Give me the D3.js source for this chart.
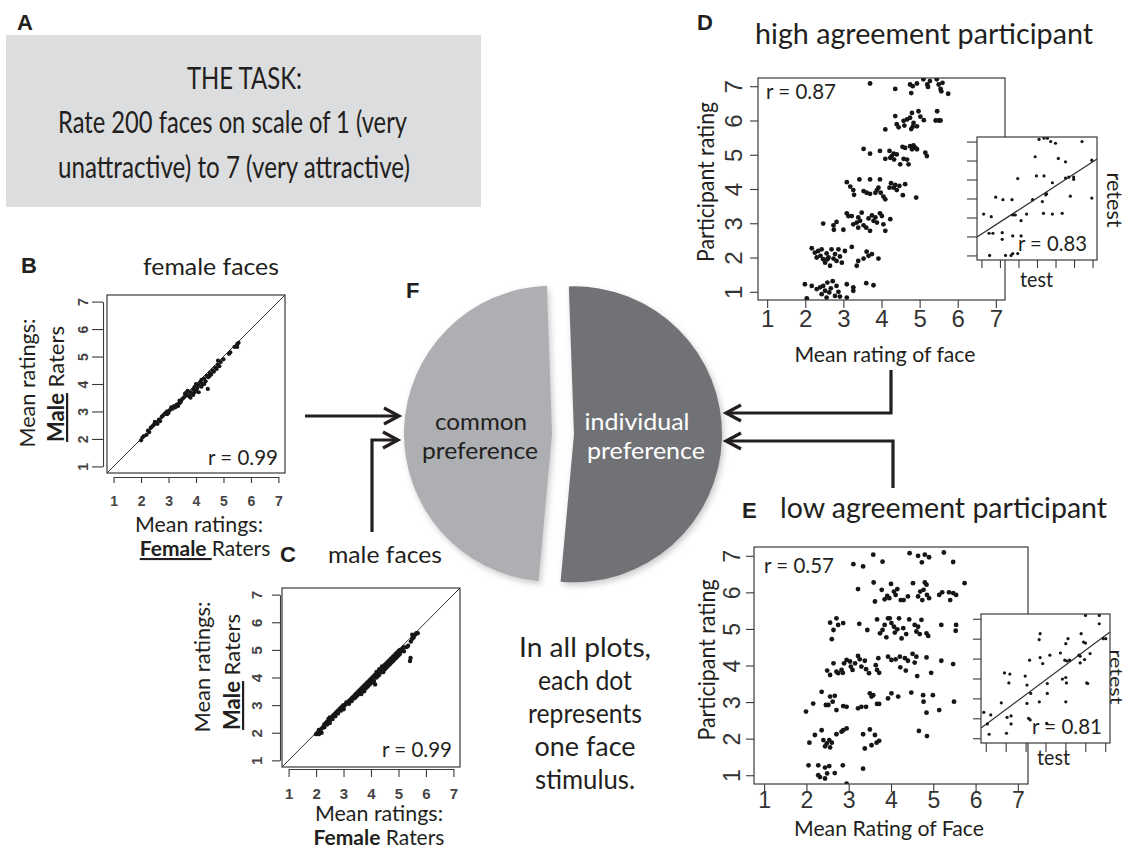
<!DOCTYPE html>
<html><head><meta charset="utf-8">
<script src="https://cdn.jsdelivr.net/npm/d3@7"></script>
<style>
body{margin:0;background:#fff;}
svg{display:block;}
</style></head><body>
<svg id="fig" width="1129" height="851"></svg>
<script>
// ---------------- DATA ----------------
const ratingTicks = [1, 2, 3, 4, 5, 6, 7];
const taskLines = ["THE TASK:", "Rate 200 faces on scale of 1 (very", "unattractive) to 7 (very attractive)"];
const pieCategories = ["individual preference", "common preference"];
const pieShares = [52, 48];
const noteLines = ["In all plots,", "each dot", "represents", "one face", "stimulus."];
const correlations = ["0.99", "0.99", "0.87", "0.83", "0.57", "0.81"]; // B, C, D, D-inset, E, E-inset

// B: female faces  [mean rating by female raters, mean rating by male raters]
const femaleFacesPts = [[2.0,1.95],[2.05,2.05],[2.1,2.1],[2.2,2.15],[2.25,2.3],[2.3,2.25],[2.35,2.4],[2.4,2.45],[2.45,2.5],[2.5,2.55],[2.55,2.6],[2.5,2.62],[2.6,2.55],[2.65,2.7],[2.7,2.65],[2.75,2.8],[2.8,2.85],[2.85,2.9],[2.9,2.95],[2.95,3.0],[3.0,2.95],[3.05,3.05],[3.1,3.15],[3.2,3.2],[3.25,3.15],[3.3,3.25],[3.35,3.2],[3.4,3.3],[3.45,3.35],[3.5,3.45],[3.55,3.5],[3.6,3.55],[3.65,3.7],[3.7,3.6],[3.7,3.75],[3.75,3.55],[3.8,3.7],[3.8,3.5],[3.85,3.65],[3.9,3.8],[3.9,3.6],[3.95,3.9],[4.0,3.75],[4.0,4.0],[4.05,3.85],[4.1,3.95],[4.1,3.7],[4.15,4.05],[4.2,3.9],[4.2,4.15],[4.25,4.0],[4.3,4.2],[4.35,4.1],[4.43,3.82],[4.4,4.3],[4.45,4.25],[4.5,4.4],[4.55,4.35],[4.6,4.5],[4.65,4.45],[4.7,4.6],[4.75,4.55],[4.8,4.7],[4.85,4.65],[4.8,4.85],[4.9,4.8],[5.0,4.9],[5.2,5.1],[5.25,5.15],[5.4,5.35],[5.5,5.45],[5.55,5.5],[5.5,5.35],[3.6,3.65],[3.4,3.4],[3.15,3.1],[2.95,2.9],[4.3,4.0],[4.5,4.3],[3.95,3.7]];

// C: male faces
const maleFacesPts = [[2.0,1.95],[2.05,2.0],[2.1,2.1],[2.1,1.95],[2.15,2.05],[2.2,2.15],[2.25,2.2],[2.3,2.3],[2.3,2.2],[2.35,2.35],[2.4,2.4],[2.4,2.3],[2.45,2.5],[2.5,2.45],[2.5,2.55],[2.55,2.5],[2.6,2.6],[2.6,2.5],[2.65,2.65],[2.7,2.6],[2.7,2.7],[2.75,2.75],[2.8,2.7],[2.8,2.8],[2.85,2.85],[2.9,2.8],[2.9,2.9],[2.95,2.95],[3.0,2.9],[3.0,3.0],[3.05,3.0],[3.1,3.05],[3.1,3.1],[3.15,3.1],[3.2,3.15],[3.2,3.05],[3.25,3.2],[3.3,3.25],[3.3,3.15],[3.35,3.3],[3.4,3.35],[3.4,3.25],[3.45,3.4],[3.5,3.45],[3.5,3.35],[3.55,3.5],[3.6,3.55],[3.6,3.45],[3.65,3.6],[3.7,3.65],[3.7,3.55],[3.75,3.7],[3.8,3.75],[3.8,3.6],[3.85,3.8],[3.9,3.85],[3.9,3.7],[3.95,3.9],[4.0,3.95],[4.0,3.8],[4.05,4.0],[4.1,4.05],[4.1,3.9],[4.15,4.1],[4.2,4.2],[4.2,4.0],[4.25,4.15],[4.3,4.3],[4.3,4.1],[4.35,4.25],[4.4,4.4],[4.4,4.2],[4.45,4.35],[4.5,4.45],[4.5,4.3],[4.55,4.5],[4.6,4.55],[4.6,4.4],[4.65,4.6],[4.7,4.65],[4.7,4.5],[4.75,4.7],[4.8,4.75],[4.8,4.6],[4.85,4.8],[4.9,4.85],[4.9,4.7],[4.95,4.9],[5.0,4.95],[5.0,4.8],[5.05,5.0],[5.1,4.95],[5.15,5.05],[5.2,5.1],[5.2,4.95],[5.3,5.1],[5.35,5.15],[5.45,5.3],[5.5,5.4],[5.55,5.45],[5.6,5.55],[5.65,5.6],[5.7,5.6],[5.55,5.5],[5.5,5.55],[5.44,4.71],[5.42,4.6],[4.1,3.85],[4.15,3.75],[3.65,3.4],[2.2,2.0],[2.5,2.35],[3.0,2.85],[3.45,3.3],[3.55,3.4],[3.75,3.5],[3.85,3.65],[3.95,3.75],[4.05,3.85],[4.25,4.05],[4.45,4.2],[4.55,4.35],[4.65,4.45],[4.75,4.55],[4.85,4.65],[4.95,4.75],[5.05,4.85]];

// D: high agreement participant [mean rating of face, participant rating (jittered)]
const highAgreePts = [[3.70,7.08],[4.36,6.92],[4.75,7.05],[4.82,7.0],[4.78,6.8],[4.93,7.08],[5.1,7.2],[5.2,7.05],[5.22,6.98],[5.27,7.15],[5.45,7.2],[5.5,7.05],[5.55,6.92],[5.57,6.85],[5.6,7.1],[5.75,6.78],
[4.10,5.74],[4.36,6.13],[4.40,5.89],[4.45,5.80],[4.58,5.99],[4.67,6.03],[4.75,6.08],[4.80,6.22],[4.84,5.93],[4.93,5.83],[4.97,6.27],[5.02,6.11],[5.11,6.01],[5.46,6.27],[5.50,6.0],[5.42,6.0],[5.55,6.0],[4.6,5.85],[4.78,5.75],[4.82,5.82],
[3.53,5.17],[3.70,5.03],[3.96,5.11],[4.10,4.88],[4.21,5.11],[4.27,4.96],[4.33,4.86],[4.40,5.01],[4.49,4.72],[4.58,4.88],[4.62,5.20],[4.67,4.86],[4.71,4.72],[4.75,5.25],[4.80,5.16],[4.84,5.27],[4.89,5.20],[4.93,5.16],[5.15,5.06],[5.19,4.96],[4.23,4.91],[4.32,5.03],[4.55,5.23],
[3.09,4.20],[3.18,4.07],[3.26,3.97],[3.28,3.83],[3.42,4.28],[3.53,3.94],[3.61,3.89],[3.70,4.28],[3.70,3.86],[3.88,3.97],[3.92,4.04],[3.96,4.28],[3.98,3.89],[4.05,3.78],[4.10,3.70],[4.21,4.04],[4.25,4.17],[4.32,4.04],[4.40,3.97],[4.47,4.09],[4.56,3.82],[4.62,4.14],[4.91,3.75],[3.84,3.89],[4.36,4.12],
[2.47,2.99],[2.74,2.94],[2.75,2.81],[2.82,3.04],[3.0,2.81],[3.09,3.29],[3.13,3.21],[3.22,3.21],[3.26,2.97],[3.35,3.02],[3.39,2.87],[3.44,3.07],[3.48,3.31],[3.53,2.94],[3.60,2.87],[3.66,3.14],[3.70,2.78],[3.75,3.23],[3.79,3.07],[3.88,3.02],[3.96,3.29],[4.01,3.21],[4.05,2.97],[4.10,2.78],[4.23,3.12],[3.39,3.17],[3.84,3.17],
[2.17,2.27],[2.25,2.14],[2.30,2.0],[2.34,2.19],[2.40,2.05],[2.47,1.95],[2.52,1.85],[2.56,2.12],[2.61,2.0],[2.65,1.76],[2.69,2.24],[2.74,1.97],[2.78,2.10],[2.82,1.90],[2.87,2.24],[2.91,2.03],[2.96,1.85],[3.04,2.19],[3.22,2.31],[3.35,1.76],[3.39,1.90],[3.53,1.97],[3.61,2.17],[3.66,2.05],[3.75,2.10],[3.92,1.97],[2.43,2.24],[2.58,1.95],
[1.99,1.22],[2.17,1.17],[2.30,1.08],[2.39,1.13],[2.04,0.81],[2.43,0.93],[2.47,1.17],[2.52,1.03],[2.58,1.27],[2.63,0.98],[2.67,1.10],[2.72,1.31],[2.78,0.88],[2.82,1.17],[2.87,1.0],[3.09,1.22],[3.09,0.83],[3.26,1.13],[3.26,1.03],[3.60,1.25],[3.79,1.19],[2.56,0.83],[2.91,0.86]];

// D inset: test vs retest
const highAgreeRetest = [[4.11,7.12],[4.38,7.18],[4.56,7.18],[4.74,7.0],[5.0,6.91],[6.43,7.0],[3.90,6.20],[5.15,6.11],[5.54,5.93],[2.96,5.05],[3.97,5.19],[4.38,5.19],[4.83,4.83],[5.54,5.08],[5.72,5.13],[5.98,5.13],[5.98,5.01],[1.77,4.07],[2.16,3.94],[2.65,3.94],[3.76,3.94],[4.29,3.84],[4.47,4.19],[4.52,4.25],[5.80,4.12],[6.96,4.02],[1.12,3.18],[1.53,3.04],[2.69,3.13],[2.83,3.13],[3.14,2.83],[3.44,3.18],[4.35,3.22],[4.83,3.18],[5.36,3.22],[1.41,2.17],[1.62,2.17],[2.12,2.20],[2.12,1.85],[2.69,2.03],[3.14,2.03],[1.44,1.0],[2.30,1.0],[2.60,1.0],[2.69,1.10],[2.96,1.10],[6.96,6.02]];
const highAgreeFit = [[0.76,1.97],[7.24,6.08]];

// E: low agreement participant
const lowAgreePts = [[3.11,6.77],[3.34,6.71],[3.58,7.03],[3.80,6.84],[4.44,7.07],[4.64,7.0],[4.73,6.82],[4.80,7.03],[4.90,6.96],[5.25,7.09],[5.47,6.83],
[3.22,6.09],[3.59,6.27],[3.62,5.75],[3.78,6.07],[3.85,5.81],[3.91,5.90],[3.96,5.84],[4.0,6.23],[4.07,6.02],[4.11,5.93],[4.15,6.09],[4.23,5.79],[4.30,5.79],[4.40,5.89],[4.52,6.25],[4.64,5.89],[4.69,6.02],[4.74,5.79],[4.77,6.07],[4.80,6.27],[4.84,6.21],[4.85,5.93],[4.90,5.84],[5.14,5.93],[5.21,6.0],[5.37,6.0],[5.40,5.79],[5.47,5.98],[5.54,5.93],[5.74,6.25],
[2.56,5.17],[2.60,4.72],[2.64,4.97],[2.71,5.29],[2.75,5.11],[2.87,5.16],[3.25,5.14],[3.44,4.97],[3.67,5.26],[3.74,4.88],[3.80,4.97],[3.85,5.11],[3.89,4.77],[3.93,5.29],[3.97,5.29],[4.01,5.16],[4.07,5.06],[4.09,4.90],[4.15,4.99],[4.19,5.29],[4.25,4.74],[4.29,5.02],[4.36,4.86],[4.43,5.26],[4.56,5.11],[4.60,4.93],[4.64,5.06],[4.68,4.86],[4.72,5.25],[4.84,4.88],[4.88,4.81],[5.19,5.11],[5.54,5.11],[5.53,4.95],
[2.49,3.86],[2.56,3.74],[2.64,4.06],[2.71,3.83],[2.75,3.79],[2.83,3.88],[2.86,3.80],[2.89,4.06],[2.95,4.15],[3.03,4.11],[3.05,3.97],[3.09,3.88],[3.15,4.06],[3.22,4.26],[3.26,4.17],[3.30,3.97],[3.38,4.13],[3.41,3.90],[3.48,3.79],[3.64,4.01],[3.67,3.88],[3.72,3.80],[3.70,4.20],[3.93,4.24],[4.01,4.15],[4.11,4.17],[4.21,4.24],[4.22,3.95],[4.33,4.20],[4.35,3.86],[4.40,4.13],[4.51,4.32],[4.56,4.08],[4.60,4.24],[4.62,3.71],[4.84,4.22],[4.95,3.80],[5.19,4.13],[5.47,4.04],
[1.99,2.74],[2.16,2.96],[2.36,3.28],[2.46,2.92],[2.52,2.92],[2.56,3.15],[2.62,3.01],[2.67,3.17],[2.71,2.78],[2.87,2.89],[2.95,2.87],[3.22,2.83],[3.30,2.87],[3.41,2.87],[3.50,3.24],[3.54,3.15],[3.58,3.19],[3.67,2.95],[3.72,2.95],[3.93,3.10],[4.01,3.24],[4.17,3.15],[4.48,3.26],[4.76,3.19],[4.77,3.01],[4.84,2.71],[4.99,3.19],[5.14,2.78],[5.49,3.01],
[2.07,1.89],[2.20,2.10],[2.36,2.23],[2.40,1.96],[2.44,1.79],[2.48,1.87],[2.54,1.96],[2.56,1.76],[2.60,1.89],[2.71,2.12],[2.83,2.19],[2.87,2.23],[2.95,2.28],[3.34,2.12],[3.38,1.73],[3.50,2.25],[3.54,1.82],[3.62,2.10],[3.66,1.89],[3.72,1.94],[4.66,2.21],[4.85,2.07],
[2.05,1.27],[2.28,1.27],[2.28,1.0],[2.32,0.95],[2.44,0.91],[2.49,1.05],[2.54,1.25],[2.67,1.06],[2.86,1.27],[2.95,0.77],[3.34,1.18],[2.44,1.21]];

// E inset: test vs retest
const lowAgreeRetest = [[6.01,7.17],[6.70,7.17],[6.70,6.75],[7.03,6.0],[6.90,6.0],[3.73,6.25],[3.68,5.95],[5.13,6.0],[5.02,5.75],[5.79,6.25],[5.91,5.83],[6.01,5.78],[6.24,5.25],[4.75,5.28],[4.22,5.17],[3.73,5.05],[3.20,4.92],[3.86,4.75],[4.97,4.92],[5.08,4.88],[5.21,4.92],[5.68,5.17],[5.74,5.12],[5.74,4.78],[5.96,4.95],[1.94,4.28],[2.21,4.22],[2.16,3.78],[2.98,4.12],[3.07,3.67],[3.26,3.25],[4.09,3.75],[4.09,3.25],[4.85,3.97],[5.02,4.05],[5.05,3.78],[6.07,3.78],[6.12,3.75],[3.69,2.83],[5.02,2.83],[3.07,2.75],[1.78,2.78],[1.25,2.17],[2.07,2.05],[2.27,2.12],[2.27,1.72],[3.15,2.0],[3.23,1.92],[1.08,1.72],[1.17,1.2],[2.04,1.25],[4.06,1.75],[0.9,2.3]];
const lowAgreeFit = [[0.76,1.51],[7.24,6.34]];

// ---------------- DRAWING ----------------
const CAL = "Lato, 'Open Sans', sans-serif";
const ARI = "'Liberation Sans', Arial, sans-serif";
const INK = "#231f20";
const svg = d3.select("#fig");
const defs = svg.append("defs");

function T(x, y, s, o = {}) {
  const t = svg.append("text").attr("x", x).attr("y", y).text(s)
    .attr("font-family", o.ff || CAL).attr("font-size", o.fs || 20)
    .attr("fill", o.fill || INK).attr("text-anchor", o.anchor || "start");
  if (o.fw) t.attr("font-weight", o.fw);
  if (o.len) t.attr("textLength", o.len).attr("lengthAdjust", "spacingAndGlyphs");
  if (o.rot) t.attr("transform", `rotate(${o.rot},${x},${y})`);
  return t;
}
function Mixed(x, y, parts, o = {}) {
  const t = svg.append("text").attr("x", x).attr("y", y)
    .attr("font-family", CAL).attr("font-size", o.fs || 20).attr("fill", INK)
    .attr("text-anchor", o.anchor || "middle");
  if (o.rot) t.attr("transform", `rotate(${o.rot},${x},${y})`);
  parts.forEach(p => {
    const s = t.append("tspan").text(p.t);
    if (p.b) s.attr("font-weight", "bold");
    if (p.u) s.attr("text-decoration", "underline");
  });
  return t;
}

let clipN = 0;
function scatter(o) {
  const [x0, y0, x1, y1] = o.box;
  const x = d3.scaleLinear().domain([0.76, 7.24]).range([x0, x1]);
  const y = d3.scaleLinear().domain([0.76, 7.24]).range([y1, y0]);
  const g = svg.append("g");
  const id = "clip" + (clipN++);
  defs.append("clipPath").attr("id", id).append("rect")
    .attr("x", x0).attr("y", y0).attr("width", x1 - x0).attr("height", y1 - y0);
  if (o.white) g.append("rect").attr("x", x0).attr("y", y0).attr("width", x1 - x0).attr("height", y1 - y0).attr("fill", "#fff");
  const pg = g.append("g").attr("clip-path", `url(#${id})`);
  if (o.diag) pg.append("line").attr("x1", x(0.76)).attr("y1", y(0.76)).attr("x2", x(7.24)).attr("y2", y(7.24))
    .attr("stroke", "#333").attr("stroke-width", 1);
  if (o.fit) pg.append("line").attr("x1", x(o.fit[0][0])).attr("y1", y(o.fit[0][1]))
    .attr("x2", x(o.fit[1][0])).attr("y2", y(o.fit[1][1])).attr("stroke", "#333").attr("stroke-width", 1.3);
  pg.selectAll("circle").data(o.pts).join("circle")
    .attr("cx", d => x(d[0])).attr("cy", d => y(d[1])).attr("r", o.r).attr("fill", "#161616");
  g.append("rect").attr("x", x0).attr("y", y0).attr("width", x1 - x0).attr("height", y1 - y0)
    .attr("fill", "none").attr("stroke", "#3a3a3a").attr("stroke-width", 1.2);

  const xa = d3.scaleLinear().domain([1, 7]).range([x(1), x(7)]);
  const ya = d3.scaleLinear().domain([1, 7]).range([y(1), y(7)]);
  const ax = d3.axisBottom(xa).tickValues(ratingTicks).tickSize(o.xt[0]).tickSizeOuter(0).tickPadding(o.xt[1])
    .tickFormat(o.fs ? d3.format("d") : "");
  const gx = g.append("g").attr("transform", `translate(0,${y1 + o.off})`).call(ax);
  const ay = d3.axisLeft(ya).tickValues(ratingTicks).tickSize(o.yt[0]).tickSizeOuter(0).tickPadding(o.yt[1])
    .tickFormat(o.fs ? d3.format("d") : "");
  const gy = g.append("g").attr("transform", `translate(${x0 - o.off},0)`).call(ay);
  [gx, gy].forEach(a => {
    a.attr("font-family", ARI).attr("font-size", o.fs || 10);
    a.selectAll("line,path").attr("stroke", "#3a3a3a").attr("stroke-width", 1.1);
    if (!o.axisLine) a.select("path.domain").remove();
    a.selectAll("text").attr("fill", o.tc || "#333").attr("font-weight", o.fw || "normal");
  });
  gy.selectAll("text").attr("x", 0).attr("dy", 0).attr("text-anchor", "middle")
    .attr("transform", `translate(${-(o.yt[0] + o.yt[1])},0) rotate(-90)`);
  return { x, y };
}

// ---- Panel A ----
T(17, 30, "A", { ff: ARI, fs: 22, fw: "bold" });
svg.append("rect").attr("x", 6).attr("y", 35).attr("width", 475).attr("height", 172).attr("fill", "#dcdddf");
T(187, 89, taskLines[0], { fs: 31, len: 115 });
T(58, 133, taskLines[1], { fs: 31, len: 349 });
T(58, 178, taskLines[2], { fs: 31, len: 352 });

// ---- Panel B ----
T(21, 273, "B", { ff: ARI, fs: 22, fw: "bold" });
T(143, 275, "female faces", { fs: 24, len: 136 });
scatter({ box: [107, 295, 285, 473], pts: femaleFacesPts, r: 2.1, diag: true, off: 4,
  xt: [6, 13], yt: [11, 4], fs: 14, fw: "bold", tc: "#444", axisLine: true });
T(278, 465, "r = " + correlations[0], { fs: 22, anchor: "end", len: 70 });
T(199, 532, "Mean ratings:", { fs: 21, anchor: "middle", len: 128 });
Mixed(205, 556, [{ t: "Female ", b: true, u: true }, { t: "Raters" }], { fs: 21 });
T(35, 383, "Mean ratings:", { fs: 22, anchor: "middle", rot: -90, len: 129 });
Mixed(64, 384, [{ t: "Male", b: true, u: true }, { t: " Raters" }], { fs: 22, rot: -90 });

// ---- Panel C ----
T(280, 562, "C", { ff: ARI, fs: 22, fw: "bold" });
T(328, 563, "male faces", { fs: 24, len: 114 });
scatter({ box: [282, 588, 460, 767], pts: maleFacesPts, r: 2.2, diag: true, off: 2,
  xt: [8, 11], yt: [8, 10], fs: 15, fw: "bold", tc: "#444", axisLine: true });
T(452, 757, "r = " + correlations[1], { fs: 22, anchor: "end", len: 70 });
T(379, 821, "Mean ratings:", { fs: 21, anchor: "middle", len: 128 });
Mixed(379, 845, [{ t: "Female", b: true }, { t: " Raters" }], { fs: 21 });
T(210, 667, "Mean ratings:", { fs: 22, anchor: "middle", rot: -90, len: 131 });
Mixed(240, 672, [{ t: "Male", b: true, u: true }, { t: " Raters" }], { fs: 22, rot: -90 });

// ---- Panel D ----
T(697, 30, "D", { ff: ARI, fs: 22, fw: "bold" });
T(755, 44, "high agreement participant", { fs: 28, len: 338 });
scatter({ box: [758, 78, 1005, 300], pts: highAgreePts, r: 2.4, off: 0,
  xt: [8, 2], yt: [8, 8], fs: 24, tc: "#333" });
T(766, 99, "r = " + correlations[2], { fs: 22, len: 70 });
scatter({ box: [977, 137, 1097, 260], pts: highAgreeRetest, r: 1.6, off: 0, white: true,
  fit: highAgreeFit, xt: [8, 0], yt: [10, 0] });
T(1087, 251, "r = " + correlations[3], { fs: 22, anchor: "end", len: 69 });
T(1020, 287, "test", { fs: 22, len: 33 });
T(1107, 200, "retest", { fs: 22, anchor: "middle", rot: 90, len: 55 });
T(885, 362, "Mean rating of face", { fs: 22, anchor: "middle", len: 181 });
T(714, 182, "Participant rating", { fs: 23, anchor: "middle", rot: -90, len: 160 });

// ---- Panel E ----
T(742, 518, "E", { ff: ARI, fs: 22, fw: "bold" });
T(780, 518, "low agreement participant", { fs: 28, len: 327 });
scatter({ box: [754, 547, 1028, 784], pts: lowAgreePts, r: 2.4, off: 0,
  xt: [8, 0], yt: [8, 6], fs: 23, tc: "#333" });
T(764, 573, "r = " + correlations[4], { fs: 22, len: 70 });
scatter({ box: [981, 614, 1110, 743], pts: lowAgreeRetest, r: 1.6, off: 0, white: true,
  fit: lowAgreeFit, xt: [9, 0], yt: [8, 0] });
T(1102, 734, "r = " + correlations[5], { fs: 22, anchor: "end", len: 70 });
T(1037, 765, "test", { fs: 22, len: 33 });
T(1110, 677, "retest", { fs: 18, anchor: "middle", rot: 90, len: 55 });
T(889, 836, "Mean Rating of Face", { fs: 21, anchor: "middle", len: 190 });
T(715, 660, "Participant rating", { fs: 23, anchor: "middle", rot: -90, len: 161 });

// ---- Panel F : pie ----
const flt = defs.append("filter").attr("id", "shadow").attr("x", "-20%").attr("y", "-20%").attr("width", "140%").attr("height", "140%");
flt.append("feDropShadow").attr("dx", 2).attr("dy", 3).attr("stdDeviation", 3).attr("flood-color", "#888").attr("flood-opacity", 0.45);
T(406, 298, "F", { ff: ARI, fs: 22, fw: "bold" });
const pieColors = d3.scaleOrdinal().domain(pieCategories).range(["#717276", "#aeafb3"]);
const a0 = -2 * Math.PI / 180;
const pie = d3.pie().sort(null).startAngle(a0).endAngle(a0 + 2 * Math.PI);
const arc = d3.arc().innerRadius(0).outerRadius(148);
const cx = 563, cy = 434, explode = 11;
svg.append("g").attr("filter", "url(#shadow)")
  .selectAll("path").data(pie(pieShares)).join("path")
  .attr("d", arc)
  .attr("fill", (d, i) => pieColors(pieCategories[i]))
  .attr("transform", d => {
    const m = (d.startAngle + d.endAngle) / 2;
    return `translate(${cx + Math.sin(m) * explode},${cy - Math.cos(m) * explode})`;
  });
const common = pieCategories[1].split(" "), indiv = pieCategories[0].split(" ");
T(481, 430, common[0], { fs: 23, anchor: "middle", len: 92 });
T(480, 459, common[1], { fs: 23, anchor: "middle", len: 116 });
T(637, 430, indiv[0], { fs: 23, anchor: "middle", len: 105, fill: "#fff" });
T(646, 459, indiv[1], { fs: 23, anchor: "middle", len: 118, fill: "#fff" });

// ---- arrows ----
function arrow(pts, dir) {
  const line = d3.line();
  svg.append("path").attr("d", line(pts)).attr("fill", "none").attr("stroke", INK).attr("stroke-width", 3.2);
  const [tx, ty] = pts[pts.length - 1];
  const s = dir;
  svg.append("path").attr("d", line([[tx - s * 15, ty - 8], [tx, ty], [tx - s * 15, ty + 8]]))
    .attr("fill", "none").attr("stroke", INK).attr("stroke-width", 3.2).attr("stroke-linejoin", "miter");
}
arrow([[305, 416], [399, 416]], 1);
arrow([[372, 532], [372, 440], [398, 440]], 1);
arrow([[891, 370], [891, 413], [726, 413]], -1);
arrow([[893, 488], [893, 441], [726, 441]], -1);

// ---- note ----
const noteBase = [657, 690, 723, 756, 789];
const noteLen = [132, 94, 114, 101, 100];
noteLines.forEach((s, i) => T(585, noteBase[i], s, { fs: 27, anchor: "middle", len: noteLen[i] }));
</script>
</body></html>
